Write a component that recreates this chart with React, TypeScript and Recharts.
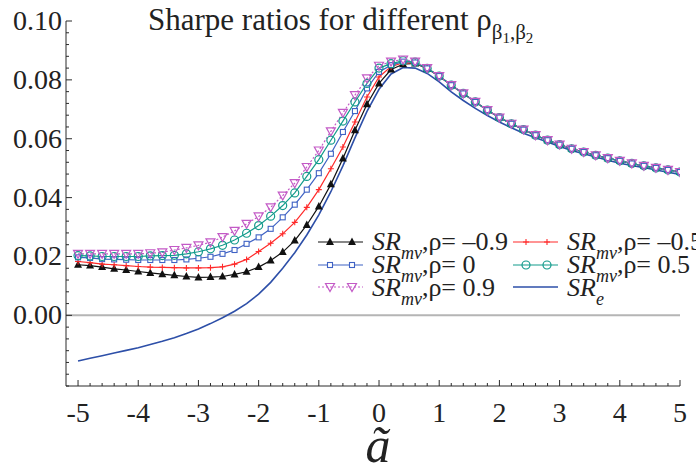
import React from 'react';
import { LineChart, Line, XAxis, YAxis, ReferenceLine, Legend } from 'recharts';

const X_VALUES = [
    -5, -4.8, -4.6, -4.4, -4.2, -4, -3.8, -3.6, -3.4, -3.2, -3, -2.8, -2.6, -2.4, -2.2, -2, -1.8, -1.6, -1.4, -1.2, -1,
    -0.8, -0.6, -0.4, -0.2, 0, 0.2, 0.4, 0.6, 0.8, 1, 1.2, 1.4, 1.6, 1.8, 2, 2.2, 2.4, 2.6, 2.8, 3, 3.2, 3.4, 3.6, 3.8,
    4, 4.2, 4.4, 4.6, 4.8, 5,
];

// right-hand part (a >= 1.2) where all SR_mv curves coincide
const SR_MV_TAIL = [
    0.0782, 0.0754, 0.0725, 0.0697, 0.0672, 0.0651, 0.0631, 0.0612, 0.0595, 0.058, 0.0566, 0.0555, 0.0544, 0.0534,
    0.0525, 0.0516, 0.0508, 0.0501, 0.0494, 0.0487,
];

const SR_MV_NEG09 = [
    0.0172, 0.0169, 0.0164, 0.0158, 0.0154, 0.0149, 0.0144, 0.014, 0.0136, 0.0132, 0.0129, 0.013, 0.0132, 0.0139,
    0.0148, 0.0164, 0.0186, 0.0215, 0.0254, 0.0307, 0.037, 0.0445, 0.0533, 0.0629, 0.0717, 0.0788, 0.0835, 0.0853,
    0.0856, 0.0838, 0.0812, ...SR_MV_TAIL,
];
const SR_MV_NEG05 = [
    0.0183, 0.0179, 0.0174, 0.0172, 0.0169, 0.0166, 0.0164, 0.0163, 0.0162, 0.0161, 0.0161, 0.0162, 0.0165, 0.0174,
    0.019, 0.0217, 0.0245, 0.0277, 0.0316, 0.0367, 0.0427, 0.0498, 0.0572, 0.0657, 0.0742, 0.081, 0.0845, 0.0858,
    0.0858, 0.0839, 0.0813, ...SR_MV_TAIL,
];
const SR_MV_0 = [
    0.0197, 0.0195, 0.0191, 0.019, 0.0189, 0.0188, 0.0188, 0.0188, 0.0188, 0.019, 0.0194, 0.0199, 0.0209, 0.0222,
    0.0243, 0.0265, 0.0294, 0.0333, 0.0376, 0.0427, 0.0483, 0.0549, 0.0623, 0.0694, 0.0771, 0.0827, 0.085, 0.0862,
    0.0859, 0.0839, 0.0813, ...SR_MV_TAIL,
];
const SR_MV_05 = [
    0.0203, 0.0202, 0.02, 0.02, 0.02, 0.02, 0.0202, 0.0203, 0.0204, 0.0209, 0.0216, 0.0226, 0.0238, 0.0256, 0.0279,
    0.0305, 0.0337, 0.0373, 0.0416, 0.0472, 0.0529, 0.0595, 0.066, 0.0725, 0.0788, 0.084, 0.0855, 0.0865, 0.086,
    0.0839, 0.0813, ...SR_MV_TAIL,
];
const SR_MV_09 = [
    0.0209, 0.0209, 0.0209, 0.0209, 0.0209, 0.0209, 0.0211, 0.0214, 0.0222, 0.0229, 0.0238, 0.0248, 0.0266, 0.0287,
    0.0311, 0.0336, 0.0367, 0.0407, 0.0449, 0.0504, 0.056, 0.0625, 0.0688, 0.0748, 0.0805, 0.0848, 0.0862, 0.0869,
    0.0862, 0.084, 0.0813, ...SR_MV_TAIL,
];
const SR_E = [
    -0.0155, -0.0146, -0.0137, -0.0128, -0.0119, -0.011, -0.0099, -0.0088, -0.0076, -0.0062, -0.0046, -0.0028, -0.0008,
    0.0014, 0.004, 0.0072, 0.0112, 0.016, 0.0213, 0.0273, 0.0341, 0.042, 0.0508, 0.0603, 0.0693, 0.0768, 0.082, 0.0842,
    0.084, 0.0822, 0.0793, 0.0759, 0.073, 0.0703, 0.0679, 0.0657, 0.0637, 0.0619, 0.0603, 0.0589, 0.0574, 0.056,
    0.0549, 0.0538, 0.0527, 0.0517, 0.0509, 0.0502, 0.0494, 0.0486, 0.0479,
];

const X_TICKS = X_VALUES;
const X_LABELS = [-5, -4, -3, -2, -1, 0, 1, 2, 3, 4, 5];
const Y_TICKS = [
    -0.024, -0.02, -0.016, -0.012, -0.008, -0.004, 0, 0.004, 0.008, 0.012, 0.016, 0.02, 0.024, 0.028, 0.032, 0.036,
    0.04, 0.044, 0.048, 0.052, 0.056, 0.06, 0.064, 0.068, 0.072, 0.076, 0.08, 0.084, 0.088, 0.092, 0.096, 0.1,
];
const Y_LABELS = [0, 0.02, 0.04, 0.06, 0.08, 0.1];

const data = X_VALUES.map((x, i) => ({
    x,
    neg09: SR_MV_NEG09[i],
    neg05: SR_MV_NEG05[i],
    zero: SR_MV_0[i],
    pos05: SR_MV_05[i],
    pos09: SR_MV_09[i],
    sre: SR_E[i],
}));

const FAMILY = 'Liberation Serif';
const SERIF = { fontFamily: `'${FAMILY}'` };
const AXIS = '#2b2b2b';
const C = {
    black: '#111111',
    red: '#ff2a2a',
    blue: '#3f62c4',
    teal: '#139b8c',
    magenta: '#c35ac6',
    sre: '#2d4fa8',
};

const near = (a: number, list: number[]) => list.some((v) => Math.abs(v - a) < 1e-6);

// marker shapes
const triUp = (cx: number, cy: number, k?: string) => (
    <path key={k} d={`M${cx},${cy - 4.5} L${cx + 4},${cy + 3} L${cx - 4},${cy + 3} Z`} fill={C.black} />
);
const square = (cx: number, cy: number, k?: string) => (
    <rect key={k} x={cx - 2.5} y={cy - 2.5} width={5} height={5} fill="#fff" stroke={C.blue} strokeWidth={1.1} />
);
const plus = (cx: number, cy: number, k?: string) => (
    <path key={k} d={`M${cx - 3},${cy} H${cx + 3} M${cx},${cy - 3} V${cy + 3}`} stroke={C.red} strokeWidth={1.1} />
);
const circle = (cx: number, cy: number, k?: string) => (
    <circle key={k} cx={cx} cy={cy} r={4} fill="none" stroke={C.teal} strokeWidth={1.2} />
);
const triDown = (cx: number, cy: number, k?: string) => (
    <path
        key={k}
        d={`M${cx - 4.5},${cy - 3.5} L${cx + 4.5},${cy - 3.5} L${cx},${cy + 4.5} Z`}
        fill="none"
        stroke={C.magenta}
        strokeWidth={1.2}
    />
);

const dotOf = (shape: (cx: number, cy: number, k?: string) => React.ReactElement, name: string) => (props: any) =>
    shape(props.cx, props.cy, `${name}-${props.index}`);

const XTick = (props: any) => {
    const { x, y, payload } = props;
    const major = near(payload.value, X_LABELS);
    return (
        <g>
            <line x1={x} x2={x} y1={y} y2={y - (major ? 6 : 3)} stroke={AXIS} strokeWidth={1} />
            {major && (
                <text x={x} y={y + 36} textAnchor="middle" fontFamily={FAMILY} style={SERIF} fontSize={28} fill="#222">
                    {String(Math.round(payload.value))}
                </text>
            )}
        </g>
    );
};

const YTick = (props: any) => {
    const { x, y, payload } = props;
    const major = near(payload.value, Y_LABELS);
    return (
        <g>
            <line x1={x} x2={x + (major ? 6 : 3)} y1={y} y2={y} stroke={AXIS} strokeWidth={1} />
            {major && (
                <text x={x - 4} y={y + 9} textAnchor="end" fontFamily={FAMILY} style={SERIF} fontSize={28} fill="#222">
                    {payload.value.toFixed(2)}
                </text>
            )}
        </g>
    );
};

const SRLabel = ({ x, y, sub, rest }: { x: number; y: number; sub: string; rest: string }) => (
    <text x={x} y={y} fontFamily={FAMILY} style={SERIF} fontSize={26} fill="#222">
        <tspan fontStyle="italic">SR</tspan>
        <tspan fontStyle="italic" fontSize={18} dy={9}>
            {sub}
        </tspan>
        <tspan dy={-9}>{rest}</tspan>
    </text>
);

const LegendBox = () => (
    <svg width={390} height={90} style={{ overflow: 'visible', display: 'block' }}>
        <line x1={18} x2={63} y1={17} y2={17} stroke={C.black} strokeWidth={1.2} />
        {triUp(30, 17)}
        {triUp(52, 17)}
        <SRLabel x={72} y={25} sub="mv" rest=",ρ= –0.9" />

        <line x1={18} x2={63} y1={40} y2={40} stroke={C.blue} strokeWidth={1.2} />
        {square(30, 40)}
        {square(52, 40)}
        <SRLabel x={72} y={48} sub="mv" rest=",ρ= 0" />

        <line x1={18} x2={63} y1={62} y2={62} stroke={C.magenta} strokeWidth={1.2} strokeDasharray="2 2" />
        {triDown(30, 62)}
        {triDown(52, 62)}
        <SRLabel x={72} y={71} sub="mv" rest=",ρ= 0.9" />

        <line x1={213} x2={258} y1={17} y2={17} stroke={C.red} strokeWidth={1.2} />
        {plus(226, 17)}
        {plus(247, 17)}
        <SRLabel x={267} y={25} sub="mv" rest=",ρ= –0.5" />

        <line x1={213} x2={258} y1={40} y2={40} stroke={C.teal} strokeWidth={1.2} />
        {circle(226, 40)}
        {circle(247, 40)}
        <SRLabel x={267} y={48} sub="mv" rest=",ρ= 0.5" />

        <line x1={213} x2={258} y1={62} y2={62} stroke={C.sre} strokeWidth={1.6} />
        <SRLabel x={267} y={71} sub="e" rest="" />
    </svg>
);

export default function App() {
    return (
        <div style={{ position: 'absolute', left: 0, top: 0, width: 696, height: 471, background: '#fff' }}>
            <LineChart width={696} height={471} data={data} margin={{ top: 21, right: 16, bottom: 0, left: 0 }}>
                <XAxis
                    dataKey="x"
                    type="number"
                    domain={[-5.2, 5]}
                    ticks={X_TICKS}
                    interval={0}
                    tick={<XTick />}
                    tickLine={false}
                    tickSize={0}
                    tickMargin={0}
                    height={85}
                    axisLine={{ stroke: AXIS, strokeWidth: 1 }}
                    allowDataOverflow
                />
                <YAxis
                    type="number"
                    domain={[-0.024, 0.1]}
                    ticks={Y_TICKS}
                    interval={0}
                    tick={<YTick />}
                    tickLine={false}
                    tickSize={0}
                    tickMargin={0}
                    width={66}
                    axisLine={{ stroke: AXIS, strokeWidth: 1 }}
                    allowDataOverflow
                />
                <ReferenceLine y={0} stroke="#b5b5b5" strokeWidth={2} />
                <Line dataKey="sre" type="linear" stroke={C.sre} strokeWidth={1.6} dot={false} isAnimationActive={false} />
                <Line
                    dataKey="neg09"
                    type="linear"
                    stroke={C.black}
                    strokeWidth={1.2}
                    dot={dotOf(triUp, 'a')}
                    isAnimationActive={false}
                />
                <Line
                    dataKey="neg05"
                    type="linear"
                    stroke={C.red}
                    strokeWidth={1.2}
                    dot={dotOf(plus, 'b')}
                    isAnimationActive={false}
                />
                <Line
                    dataKey="zero"
                    type="linear"
                    stroke={C.blue}
                    strokeWidth={1.2}
                    dot={dotOf(square, 'c')}
                    isAnimationActive={false}
                />
                <Line
                    dataKey="pos05"
                    type="linear"
                    stroke={C.teal}
                    strokeWidth={1.2}
                    dot={dotOf(circle, 'd')}
                    isAnimationActive={false}
                />
                <Line
                    dataKey="pos09"
                    type="linear"
                    stroke={C.magenta}
                    strokeWidth={1.2}
                    strokeDasharray="2 2"
                    dot={dotOf(triDown, 'e')}
                    isAnimationActive={false}
                />
                <Legend
                    content={<LegendBox />}
                    layout="horizontal"
                    verticalAlign="middle"
                    align="center"
                    wrapperStyle={{ left: 300, top: 225, width: 390, height: 90 }}
                />
                <text x={148} y={30} fontFamily={FAMILY} style={SERIF} fontSize={31} fill="#222">
                    Sharpe ratios for different ρ
                    <tspan fontSize={21} dy={9}>
                        β
                    </tspan>
                    <tspan fontSize={15} dy={4}>
                        1
                    </tspan>
                    <tspan fontSize={21} dy={-4}>
                        ,β
                    </tspan>
                    <tspan fontSize={15} dy={4}>
                        2
                    </tspan>
                </text>
                <text
                    x={378}
                    y={462}
                    textAnchor="middle"
                    fontFamily={FAMILY}
                    style={SERIF}
                    fontStyle="italic"
                    fontSize={50}
                    fill="#222"
                >
                    ã
                </text>
            </LineChart>
        </div>
    );
}
